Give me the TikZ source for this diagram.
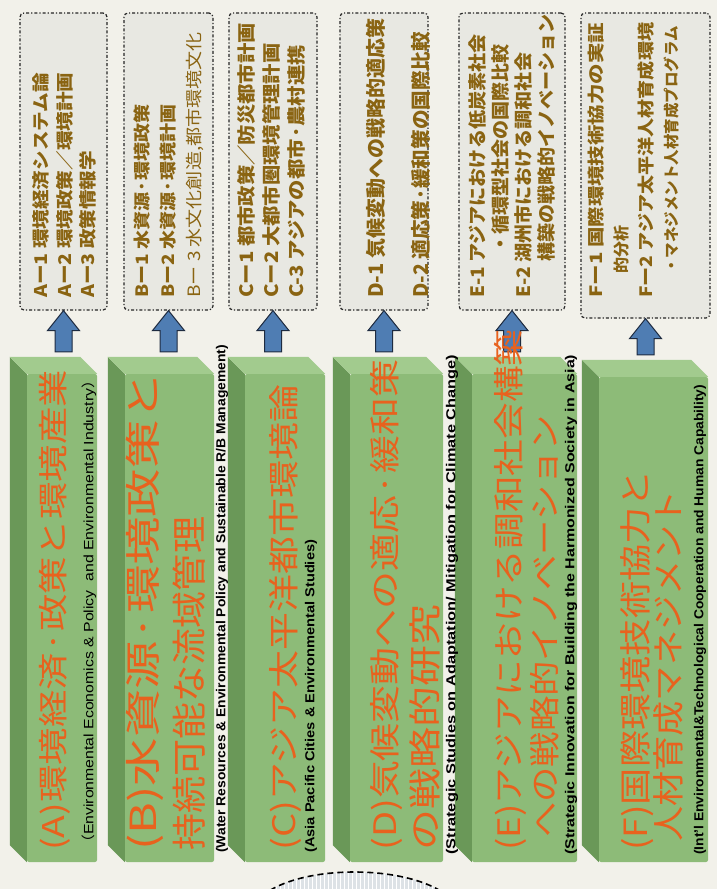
\documentclass[tikz,border=0pt]{standalone}
\usepackage{fontspec}
\setmainfont{Liberation Sans}
\newfontfamily\jp{Noto Sans CJK JP}
\usetikzlibrary{calc}

\definecolor{paper}{HTML}{F2F1EA}
\definecolor{memogray}{HTML}{E8E8E2}
\definecolor{ink}{HTML}{8A6412}
\definecolor{leaf}{HTML}{8DBB78}
\definecolor{leafdark}{HTML}{6A9858}
\definecolor{leaftop}{HTML}{A2CB8E}
\definecolor{rust}{HTML}{E8621E}
\definecolor{steel}{HTML}{4F7DB3}
\definecolor{navy}{HTML}{1E2B40}
\definecolor{gridblue}{HTML}{DDE2E6}

% stretch a line of text along its run to a given length
\newcommand{\stretchto}[2]{\resizebox{#1}{\height}{#2}}
\newcommand{\slabtitle}[3]{\stretchto{#1}{\fontsize{#2}{#2}\selectfont #3}}

% side and top faces of a green slab
\newcommand{\slabside}[1]{%
  \fill[leafdark] (#1.north west) -- ++(-17,-17) -- ($(#1.south west)+(-17,-17)$) -- (#1.south west) -- cycle;
  \fill[leaftop] (#1.north west) -- ++(-17,-17) -- ($(#1.north east)+(-17,-17)$) -- (#1.north east) -- cycle;}

% block arrow from a slab up to its memo box
\newcommand{\blockup}[2]{%
  \draw[upblock] let \p1=(#1.south), \p2=(#2.north) in
    (\x1,\y1) -- (\x1+16pt,\y1-20pt) -- (\x1+8.5pt,\y1-20pt) -- (\x1+8.5pt,\y2+22pt)
    -- (\x1-8.5pt,\y2+22pt) -- (\x1-8.5pt,\y1-20pt) -- (\x1-16pt,\y1-20pt) -- cycle;}

\begin{document}
\begin{tikzpicture}[x=1pt,y=-1pt,
  memo/.style={draw=black!85, line width=1.2pt, dash dot, rounded corners=4pt, fill=memogray, inner sep=0pt},
  memotext/.style={rotate=90, anchor=north west, align=left, inner sep=0pt, text=ink},
  slab/.style={fill=leaf, rounded corners=2pt, inner sep=0pt},
  maintext/.style={rotate=90, anchor=west, inner sep=0pt, text=rust, font=\jp},
  entext/.style={rotate=90, anchor=west, inner sep=0pt, font=\bfseries\fontsize{13}{14}\selectfont},
  upblock/.style={fill=steel, draw=navy, line width=1pt}]
\useasboundingbox (0,0) rectangle (717,889);
\fill[paper] (0,0) rectangle (717,889);

% memo boxes
\node[memo, minimum width=87, minimum height=297] (dA) at (63.5,161.5) {};
\node[memo, minimum width=89, minimum height=297] (dB) at (168.5,161.5) {};
\node[memo, minimum width=88, minimum height=297] (dC) at (273,161.5) {};
\node[memo, minimum width=88, minimum height=297] (dD) at (384,161.5) {};
\node[memo, minimum width=106, minimum height=297] (dE) at (512,161.5) {};
\node[memo, minimum width=129, minimum height=305] (dF) at (645.5,165.5) {};

\node[memotext, font=\jp\bfseries\fontsize{17.5}{24}\selectfont] (mA) at (30,298)
  {\scalebox{1.12}[1]{\begin{tabular}{@{}l@{}}Aー1 環境経済システム論\\Aー2 環境政策／環境計画\\Aー3 政策情報学\end{tabular}}};
\node[memotext, font=\jp\bfseries\fontsize{17}{26}\selectfont] (mB) at (130,298)
  {\scalebox{1.12}[1]{\begin{tabular}{@{}l@{}}Bー1 水資源·環境政策\\Bー2 水資源·環境計画\\{\mdseries Bー 3 水文化創造,都市環境文化}\end{tabular}}};
\node[memotext, font=\jp\bfseries\fontsize{18.5}{25}\selectfont] (mC) at (236,298)
  {\scalebox{1.1}[1]{\begin{tabular}{@{}l@{}}Cー1 都市政策／防災都市計画\\Cー2 大都市圏環境管理計画\\C-3 アジアの都市·農村連携\end{tabular}}};
\node[memotext, font=\jp\bfseries\fontsize{20}{45}\selectfont] (mD) at (352,298)
  {\begin{tabular}{@{}l@{}}D-1 気候変動への戦略的適応策\\\stretchto{266pt}{D-2 適応策·緩和策の国際比較}\end{tabular}};
\node[memotext, font=\jp\bfseries\fontsize{18.5}{23}\selectfont] (mE) at (468,298)
  {\scalebox{1.03}[1]{\begin{tabular}{@{}l@{}}E-1 アジアにおける低炭素社会\\\hspace*{2.3em}・循環型社会の国際比較\\E-2 湖州市における調和社会\\\hspace*{1.9em}構築の戦略的イノベーション\end{tabular}}};
\node[memotext, font=\jp\bfseries\fontsize{16}{25}\selectfont] (mF) at (585,298)
  {\begin{tabular}{@{}l@{}}\stretchto{275pt}{\fontsize{17}{25}\selectfont Fー1 国際環境技術協力の実証}\\\hspace*{1.5em}的分析\\\stretchto{275pt}{\fontsize{17}{25}\selectfont Fー2 アジア太平洋人材育成環境}\\\hspace*{1.5em}{\fontsize{15.5}{25}\selectfont ・マネジメント人材育成プログラム}\end{tabular}};

% green slabs (front faces)
\node[slab, minimum width=70, minimum height=488] (gA) at (62,618) {};
\node[slab, minimum width=89, minimum height=488] (gB) at (169.5,618) {};
\node[slab, minimum width=80, minimum height=488] (gC) at (285,618) {};
\node[slab, minimum width=93, minimum height=488] (gD) at (396.5,618) {};
\node[slab, minimum width=105, minimum height=488] (gE) at (524.5,618) {};
\node[slab, minimum width=109, minimum height=485] (gF) at (653.5,619.5) {};
\slabside{gA}
\slabside{gB}
\slabside{gC}
\slabside{gD}
\slabside{gE}
\slabside{gF}

% arrows
\blockup{dA}{gA}
\blockup{dB}{gB}
\blockup{dC}{gC}
\blockup{dD}{gD}
\blockup{dE}{gE}
\blockup{dF}{gF}

% slab titles
\node[maintext] (tA1) at (55,851) {\slabtitle{481pt}{30}{(A)環境経済·政策と環境産業}};
\node[entext, font=\fontsize{13.5}{14}\selectfont] (eA) at (89,851)
  {\stretchto{478pt}{{\jp （}Environmental Economics \& Policy\ \ and Environmental Industry{\jp ）}}};
\node[maintext] (tB1) at (145,851) {\slabtitle{479pt}{36}{(B)水資源·環境政策と}};
\node[maintext] (tB2) at (189,851) {\slabtitle{334pt}{35}{持続可能な流域管理}};
\node[entext] (eB) at (222,853) {\stretchto{508pt}{(Water Resources \& Environmental Policy and Sustainable R/B Management)}};
\node[maintext] (tC1) at (285,851) {\slabtitle{466pt}{31}{(C)アジア太平洋都市環境論}};
\node[entext] (eC) at (311,853) {\stretchto{313pt}{(Asia Pacific Cities \& Environmental Studies)}};
\node[maintext] (tD1) at (386,851) {\slabtitle{491pt}{31}{(D)気候変動への適応·緩和策}};
\node[maintext] (tD2) at (425,851) {\slabtitle{246pt}{33}{の戦略的研究}};
\node[entext] (eD) at (452,855) {\stretchto{500pt}{(Strategic Studies on Adaptation/ Mitigation for Climate Change)}};
\node[maintext] (tE1) at (510,851) {\slabtitle{521pt}{31}{(E)アジアにおける調和社会構築}};
\node[maintext] (tE2) at (545,838) {\slabtitle{423pt}{31}{への戦略的イノベーション}};
\node[entext] (eE) at (571,855) {\stretchto{500pt}{(Strategic Innovation for Building the Harmonized Society in Asia)}};
\node[maintext] (tF1) at (637,851) {\slabtitle{381pt}{32}{(F)国際環境技術協力と}};
\node[maintext] (tF2) at (668,842) {\slabtitle{352pt}{32}{人材育成マネジメント}};
\node[entext] (eF) at (700,855) {\stretchto{470pt}{(Int'l Environmental\&Technological Cooperation and Human Capability)}};

% cut-off dashed shape at the bottom
\begin{scope}
  \clip (262,896) .. controls (300,864) and (408,864) .. (448,896) -- cycle;
  \fill[gridblue] (250,860) rectangle (460,900);
  \draw[white, line width=0.4pt, step=4] (250,860) grid (460,900);
\end{scope}
\draw[line width=1.6pt, dash pattern=on 6pt off 4pt] (262,896) .. controls (300,864) and (408,864) .. (448,896);
\end{tikzpicture}
\end{document}
